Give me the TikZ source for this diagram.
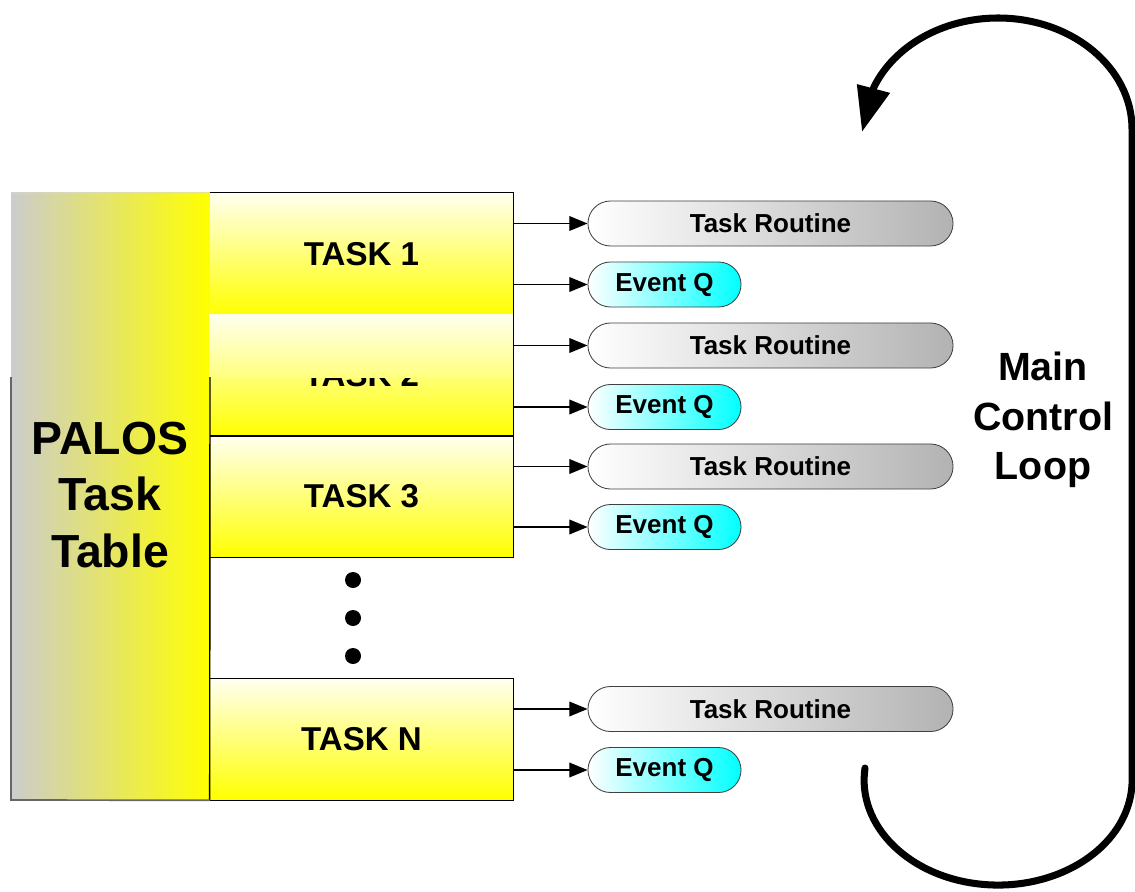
\documentclass[tikz,border=0pt]{standalone}
\usepackage{fontspec}
\setmainfont{Liberation Sans}
\usetikzlibrary{arrows.meta,shapes.misc}
\begin{document}
\begin{tikzpicture}[x=0.025cm,y=0.025cm]
\tikzstyle{every node}+=[inner sep=0pt]
\tikzstyle{taskbox}=[top color=yellow!6, bottom color=yellow, minimum width=7.575cm, minimum height=3.035cm, font=\bfseries\fontsize{23.5}{28}\selectfont]
\tikzstyle{routine}=[rounded rectangle, draw=black!75, line width=0.6pt, left color=white, right color=black!30, minimum width=9.125cm, minimum height=1.125cm, font=\bfseries\fontsize{18.5}{22}\selectfont]
\tikzstyle{eventq}=[routine, right color=cyan, minimum width=3.825cm]
\tikzstyle{feed}=[black, line width=1pt, -{Triangle[length=13pt,width=10.5pt]}]
\useasboundingbox (0,0) rectangle (1135,-892);
% task table
\shade [left color=black!20, right color=yellow] (11,-193) rectangle (210,-800);
\node [taskbox] (t1) at (361.5,-253.7) {TASK 1};
\node [taskbox] (t2) at (361.5,-375.1) {TASK 2};
\node [taskbox] (t3) at (361.5,-496.5) {TASK 3};
\node [taskbox] (tn) at (361.5,-739.3) {TASK N};
\shade [top color=yellow!6, bottom color=yellow!50] (t2.north west) rectangle (513,-377);
\draw [black!15, line width=0.6pt] (11,-193) -- (t1.north west);
\draw [black, line width=1pt] (t1.north west) -- (t1.north east) -- (t3.south east) -- (t3.south west);
\draw [black, line width=1pt] (t2.south west) -- (t2.south east);
\draw [black, line width=1pt] (tn.north west) -- (tn.north east) -- (tn.south east) -- (tn.south west);
\draw [black, line width=1pt] (210,-377) -- (tn.south west);
\draw [black!60, line width=1.2pt] (11,-377) -- (11,-800) -- (tn.south west);
\node [align=center, font=\bfseries\fontsize{33}{40.5}\selectfont] (palos) at (110,-495) {PALOS\\Task\\Table};
\foreach \y in {580,618,656}
  \fill [black] (353,-\y) circle (8);
% routines and queues
\node [routine] (r1) at (770.5,-223.5) {Task Routine};
\node [eventq] (q1) at (664.5,-284.5) {Event Q};
\node [routine] (r2) at (770.5,-345.5) {Task Routine};
\node [eventq] (q2) at (664.5,-407) {Event Q};
\node [routine] (r3) at (770.5,-466.5) {Task Routine};
\node [eventq] (q3) at (664.5,-527) {Event Q};
\node [routine] (rn) at (770.5,-709) {Task Routine};
\node [eventq] (qn) at (664.5,-770) {Event Q};
\draw [feed] (r1.west -| t1.east) -- (r1.west);
\draw [feed] (q1.west -| t1.east) -- (q1.west);
\draw [feed] (r2.west -| t2.east) -- (r2.west);
\draw [feed] (q2.west -| t2.east) -- (q2.west);
\draw [feed] (r3.west -| t3.east) -- (r3.west);
\draw [feed] (q3.west -| t3.east) -- (q3.west);
\draw [feed] (rn.west -| tn.east) -- (rn.west);
\draw [feed] (qn.west -| tn.east) -- (qn.west);
% main loop
\draw [black, line width=5pt, line cap=round, line join=round, -{Triangle[length=32pt,width=23pt]}]
  (865,-768) arc[start angle=173.4, end angle=360, x radius=134, y radius=105]
  -- (1132,-129) arc[start angle=0, end angle=158, x radius=134, y radius=111]
  -- (862,-132);
\node [align=center, font=\bfseries\fontsize{28}{35}\selectfont] (loop) at (1043,-420) {Main\\Control\\Loop};
\end{tikzpicture}
\end{document}
